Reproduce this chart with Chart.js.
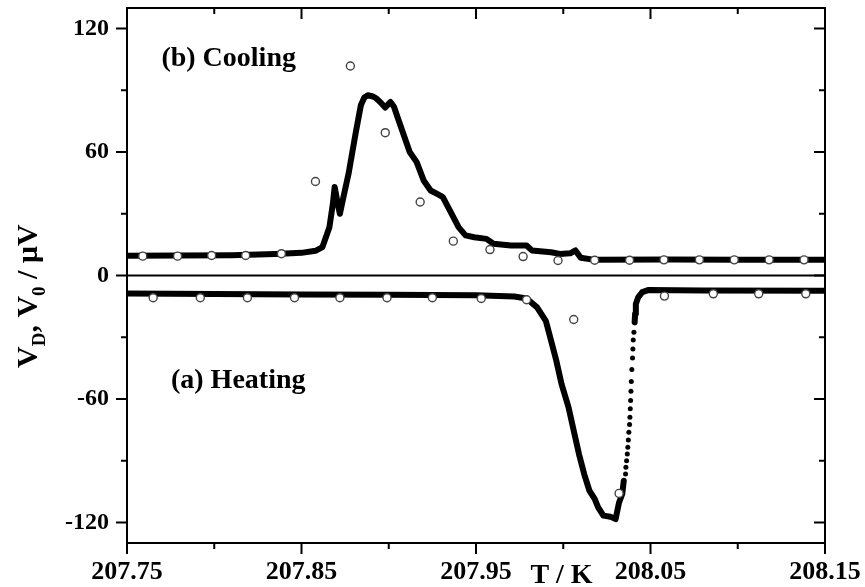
<!DOCTYPE html>
<html>
<head>
<meta charset="utf-8">
<script src="https://cdn.jsdelivr.net/npm/chart.js@4.4.1/dist/chart.umd.min.js"></script>
<style>
  html, body { margin: 0; padding: 0; background: #fff; }
  #chart { display: block; }
</style>
</head>
<body>
<canvas id="chart" width="865" height="587"></canvas>
<script>
// cooling trace (b)
const coolT = [207.750, 207.780, 207.810, 207.835, 207.850, 207.858, 207.862, 207.866, 207.868, 207.869,
  207.871, 207.872, 207.874, 207.877, 207.881, 207.884, 207.886, 207.888, 207.891, 207.893,
  207.896, 207.898, 207.900, 207.901, 207.903, 207.905, 207.909, 207.912, 207.916, 207.920,
  207.924, 207.928, 207.931, 207.935, 207.940, 207.944, 207.949, 207.956, 207.960, 207.970,
  207.979, 207.982, 207.993, 207.998, 208.004, 208.007, 208.010, 208.018, 208.060, 208.100, 208.150];
const coolV = [9.6, 9.7, 9.9, 10.5, 11.0, 12.0, 13.8, 23.5, 35.0, 43.0,
  34.0, 30.0, 38.0, 49.6, 69.0, 82.7, 86.5, 87.6, 87.0, 86.0,
  83.5, 81.6, 83.5, 84.3, 82.0, 77.0, 67.3, 60.0, 55.1, 46.2,
  41.3, 39.5, 38.1, 31.6, 23.5, 19.5, 18.6, 17.8, 15.4, 14.6,
  14.6, 12.2, 11.3, 10.5, 10.8, 12.2, 8.6, 7.6, 7.8, 7.6, 7.6];

// heating trace (a): dense part, sparse rising edge, tail
const heatT = [207.750, 207.800, 207.850, 207.900, 207.950, 207.972, 207.979, 207.985, 207.990, 207.993,
  207.996, 207.999, 208.003, 208.006, 208.009, 208.012, 208.015, 208.018, 208.020, 208.023,
  208.027, 208.030, 208.032, 208.0338, 208.0347];
const heatV = [-8.7, -9.0, -9.2, -9.4, -9.6, -10.2, -11.2, -15.5, -22.0, -31.6,
  -41.3, -52.7, -64.0, -75.4, -86.7, -96.5, -104.6, -108.6, -112.7, -116.7,
  -117.2, -118.4, -110.3, -106.2, -99.7];
const edgeT = [208.0357, 208.0359, 208.0363, 208.0367, 208.0370, 208.0373, 208.0376, 208.0380, 208.0382, 208.0384,
  208.0386, 208.0388, 208.0390, 208.0393, 208.0397, 208.0399, 208.0401, 208.0405, 208.0409];
const edgeV = [-96.5, -93.2, -90.0, -86.7, -83.5, -79.9, -76.2, -72.4, -68.9, -64.8,
  -60.8, -56.3, -51.5, -45.7, -40.1, -35.7, -31.3, -27.6, -22.7];
const tailT = [208.0409, 208.0412, 208.0416, 208.0430, 208.0453, 208.0490, 208.080, 208.150];
const tailV = [-22.7, -18.6, -13.8, -10.5, -8.1, -7.0, -7.3, -7.4];

// open circles (V_0)
const coolCircT = [207.759, 207.779, 207.7985, 207.818, 207.8385, 207.858, 207.878, 207.898, 207.918, 207.937,
  207.958, 207.977, 207.997, 208.018, 208.038, 208.0577, 208.078, 208.098, 208.118, 208.138];
const coolCircV = [9.4, 9.4, 9.7, 9.7, 10.6, 45.7, 101.8, 69.4, 35.7, 16.7,
  12.6, 9.2, 7.3, 7.4, 7.4, 7.6, 7.6, 7.6, 7.6, 7.6];
const heatCircT = [207.765, 207.792, 207.819, 207.846, 207.872, 207.899, 207.925, 207.953, 207.979, 208.006,
  208.032, 208.058, 208.086, 208.112, 208.139];
const heatCircV = [-10.8, -10.8, -10.8, -10.8, -10.8, -10.8, -10.8, -11.2, -11.8, -21.4,
  -105.9, -10.0, -8.9, -8.9, -8.9];

// axes
const xMajor = [207.75, 207.85, 207.95, 208.05, 208.15];
const xMinor = [207.80, 207.90, 208.00, 208.10];
const yMajor = [-120, -60, 0, 60, 120];
const yMinor = [-90, -30, 30, 90];

const pts = (xs, ys) => xs.map((x, i) => ({ x: x, y: ys[i] }));
const serif = '"Liberation Serif", "Times New Roman", serif';

const circleStyle = {
  showLine: false, pointRadius: 4, pointHoverRadius: 4,
  pointBackgroundColor: '#fff', pointBorderColor: '#444', pointBorderWidth: 1.4
};
const lineStyle = {
  showLine: true, borderColor: '#000', borderWidth: 6, pointRadius: 0,
  tension: 0, borderJoinStyle: 'round', borderCapStyle: 'round'
};

// frame, ticks and texts
const framePlugin = {
  id: 'frame',
  beforeDatasetsDraw(chart) {
    const { ctx, chartArea: a, scales: { y } } = chart;
    const y0 = y.getPixelForValue(0);
    ctx.save();
    ctx.strokeStyle = '#000';
    ctx.lineWidth = 2;
    ctx.beginPath();
    ctx.moveTo(a.left, y0);
    ctx.lineTo(a.right, y0);
    ctx.stroke();
    ctx.restore();
  },
  afterDatasetsDraw(chart) {
    const { ctx, chartArea: a, scales: { x, y } } = chart;
    ctx.save();
    ctx.strokeStyle = '#000';
    ctx.lineWidth = 2;
    ctx.strokeRect(a.left, a.top, a.right - a.left, a.bottom - a.top);

    ctx.beginPath();
    const xt = (v, len) => {
      const px = x.getPixelForValue(v);
      ctx.moveTo(px, a.bottom); ctx.lineTo(px, a.bottom + len);   // outward
      ctx.moveTo(px, a.top); ctx.lineTo(px, a.top + len);         // inward
    };
    const yt = (v, len) => {
      const py = y.getPixelForValue(v);
      ctx.moveTo(a.left, py); ctx.lineTo(a.left - len, py);       // outward
      ctx.moveTo(a.right, py); ctx.lineTo(a.right - len, py);     // inward
    };
    xMajor.forEach(v => xt(v, 11));
    xMinor.forEach(v => xt(v, 6));
    yMajor.forEach(v => yt(v, 11));
    yMinor.forEach(v => yt(v, 6));
    ctx.stroke();

    ctx.fillStyle = '#000';
    ctx.textBaseline = 'alphabetic';
    ctx.font = 'bold 28px ' + serif;
    ctx.textAlign = 'left';
    ctx.fillText('(b) Cooling', x.getPixelForValue(207.7697), y.getPixelForValue(102));
    ctx.fillText('(a) Heating', x.getPixelForValue(207.7752), y.getPixelForValue(-54.6));
    ctx.textAlign = 'center';
    ctx.fillText('T / K', x.getPixelForValue(207.999), 583);

    // y title with subscripts
    ctx.translate(37, 368);
    ctx.rotate(-Math.PI / 2);
    ctx.textAlign = 'left';
    let pos = 0;
    const part = (txt, size, dy) => {
      ctx.font = 'bold ' + size + 'px ' + serif;
      ctx.fillText(txt, pos, dy);
      pos += ctx.measureText(txt).width;
    };
    part('V', 30, 0);
    part('D', 19, 8);
    part(', V', 30, 0);
    part('0', 19, 8);
    part(' / \u03BCV', 30, 0);
    ctx.restore();
  }
};

new Chart(document.getElementById('chart'), {
  type: 'scatter',
  data: {
    datasets: [
      Object.assign({ data: pts(coolCircT, coolCircV), order: 0 }, circleStyle),
      Object.assign({ data: pts(heatCircT, heatCircV), order: 0 }, circleStyle),
      { data: pts(edgeT, edgeV), order: 1, showLine: false, pointRadius: 2.5,
        pointBackgroundColor: '#000', pointBorderWidth: 0 },
      Object.assign({ data: pts(coolT, coolV), order: 2 }, lineStyle),
      Object.assign({ data: pts(heatT, heatV), order: 2 }, lineStyle),
      Object.assign({ data: pts(tailT, tailV), order: 2 }, lineStyle)
    ]
  },
  options: {
    responsive: false,
    animation: false,
    devicePixelRatio: 1,
    layout: { padding: { left: 0, right: 40, top: 8, bottom: 0 } },
    plugins: { legend: { display: false }, tooltip: { enabled: false } },
    scales: {
      x: {
        type: 'linear', min: 207.75, max: 208.15,
        grid: { display: false, drawTicks: false },
        border: { display: false },
        afterBuildTicks: s => { s.ticks = xMajor.map(v => ({ value: v })); },
        afterFit: s => {
          s.height = 44;
          s.paddingLeft = 0; s.paddingRight = 0; s.paddingTop = 0; s.paddingBottom = 0;
        },
        ticks: {
          padding: 14, maxRotation: 0, autoSkip: false, color: '#000',
          font: { family: serif, size: 26, weight: 'bold' },
          callback: v => v.toFixed(2)
        }
      },
      y: {
        type: 'linear', min: -130, max: 130,
        grid: { display: false, drawTicks: false },
        border: { display: false },
        afterBuildTicks: s => { s.ticks = yMajor.map(v => ({ value: v })); },
        afterFit: s => {
          s.width = 127;
          s.paddingLeft = 0; s.paddingRight = 0; s.paddingTop = 0; s.paddingBottom = 0;
        },
        ticks: {
          padding: 18, autoSkip: false, color: '#000',
          font: { family: serif, size: 24, weight: 'bold' },
          callback: v => String(v)
        }
      }
    }
  },
  plugins: [framePlugin]
});
</script>
</body>
</html>
